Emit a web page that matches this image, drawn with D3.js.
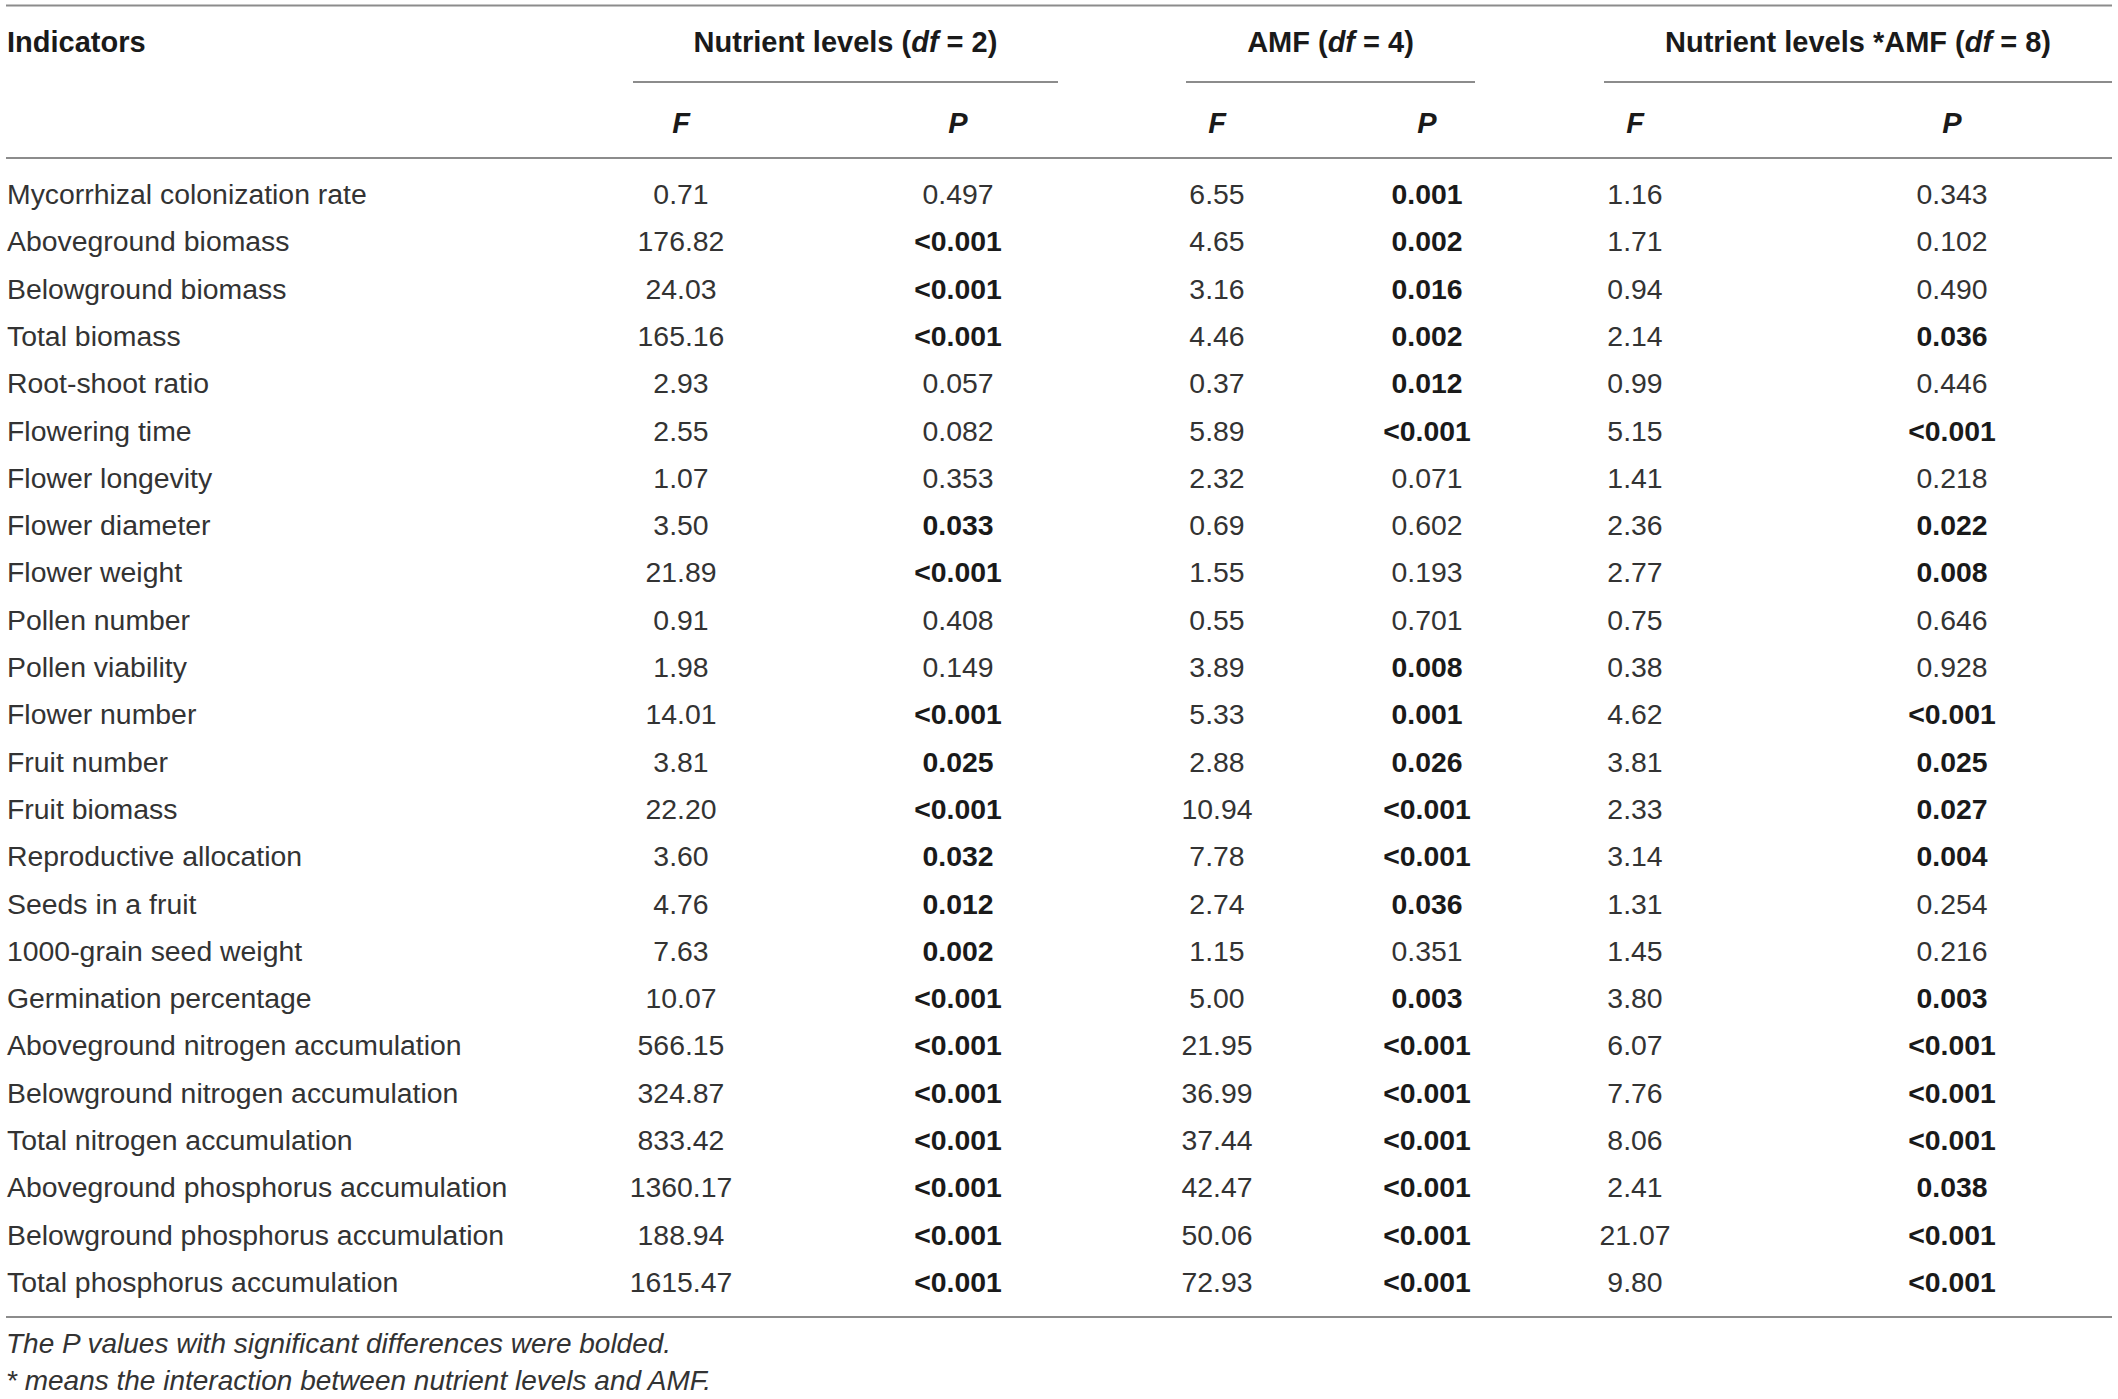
<!DOCTYPE html>
<html>
<head>
<meta charset="utf-8">
<style>
    body { margin: 0; background: #fff; }
    svg { display: block; font-family: "Liberation Sans", Arial, Helvetica, sans-serif; }
    .cell { font-size: 28.4px; fill: #333; }
    .head { font-size: 29px; font-weight: bold; fill: #1a1a1a; }
    .rule { stroke: #8c8c8c; stroke-width: 2; }
    .note { font-size: 28px; font-style: italic; fill: #333; }
</style>
</head>
<body>
<svg id="chart" width="2118" height="1399"></svg>
<script src="https://d3js.org/d3.v7.min.js"></script>
<script>
    // table contents
    const indicators = [
        "Mycorrhizal colonization rate", "Aboveground biomass", "Belowground biomass", "Total biomass",
        "Root-shoot ratio", "Flowering time", "Flower longevity", "Flower diameter", "Flower weight",
        "Pollen number", "Pollen viability", "Flower number", "Fruit number", "Fruit biomass",
        "Reproductive allocation", "Seeds in a fruit", "1000-grain seed weight", "Germination percentage",
        "Aboveground nitrogen accumulation", "Belowground nitrogen accumulation", "Total nitrogen accumulation",
        "Aboveground phosphorus accumulation", "Belowground phosphorus accumulation", "Total phosphorus accumulation"
    ];
    const nutrientF = ["0.71", "176.82", "24.03", "165.16", "2.93", "2.55", "1.07", "3.50", "21.89", "0.91", "1.98", "14.01",
        "3.81", "22.20", "3.60", "4.76", "7.63", "10.07", "566.15", "324.87", "833.42", "1360.17", "188.94", "1615.47"];
    const nutrientP = ["0.497", "<0.001", "<0.001", "<0.001", "0.057", "0.082", "0.353", "0.033", "<0.001", "0.408", "0.149", "<0.001",
        "0.025", "<0.001", "0.032", "0.012", "0.002", "<0.001", "<0.001", "<0.001", "<0.001", "<0.001", "<0.001", "<0.001"];
    const amfF = ["6.55", "4.65", "3.16", "4.46", "0.37", "5.89", "2.32", "0.69", "1.55", "0.55", "3.89", "5.33",
        "2.88", "10.94", "7.78", "2.74", "1.15", "5.00", "21.95", "36.99", "37.44", "42.47", "50.06", "72.93"];
    const amfP = ["0.001", "0.002", "0.016", "0.002", "0.012", "<0.001", "0.071", "0.602", "0.193", "0.701", "0.008", "0.001",
        "0.026", "<0.001", "<0.001", "0.036", "0.351", "0.003", "<0.001", "<0.001", "<0.001", "<0.001", "<0.001", "<0.001"];
    const interF = ["1.16", "1.71", "0.94", "2.14", "0.99", "5.15", "1.41", "2.36", "2.77", "0.75", "0.38", "4.62",
        "3.81", "2.33", "3.14", "1.31", "1.45", "3.80", "6.07", "7.76", "8.06", "2.41", "21.07", "9.80"];
    const interP = ["0.343", "0.102", "0.490", "0.036", "0.446", "<0.001", "0.218", "0.022", "0.008", "0.646", "0.928", "<0.001",
        "0.025", "0.027", "0.004", "0.254", "0.216", "0.003", "<0.001", "<0.001", "<0.001", "0.038", "<0.001", "<0.001"];

    const groups = [
        { name: "Nutrient levels", df: "2" },
        { name: "AMF", df: "4" },
        { name: "Nutrient levels *AMF", df: "8" }
    ];
    const columns = [
        { key: "nF", label: "F", values: nutrientF },
        { key: "nP", label: "P", values: nutrientP },
        { key: "aF", label: "F", values: amfF },
        { key: "aP", label: "P", values: amfP },
        { key: "iF", label: "F", values: interF },
        { key: "iP", label: "P", values: interP }
    ];
    const notes = [
        "The P values with significant differences were bolded.",
        "* means the interaction between nutrient levels and AMF."
    ];

    const svg = d3.select("#chart");

    // column centres and group spans
    const xCol = d3.scaleOrdinal()
        .domain(columns.map((c) => c.key))
        .range([681, 958, 1217, 1427, 1635, 1952]);
    const groupSpan = d3.scaleOrdinal()
        .domain(groups.map((g) => g.name))
        .range([[633, 1058], [1186, 1475], [1604, 2112]]);

    // row baselines
    const yRow = d3.scalePoint()
        .domain(d3.range(indicators.length))
        .range([204, 1292]);

    const isSig = (p) => p.startsWith("<") || +p < 0.05;

    // rules
    const rules = [5.5, 158, 1317];
    svg.selectAll("line.full").data(rules)
        .enter()
        .append("line")
        .attr("class", "rule full")
        .attr("x1", 6).attr("x2", 2112)
        .attr("y1", (d) => d).attr("y2", (d) => d);

    svg.selectAll("line.group").data(groups)
        .enter()
        .append("line")
        .attr("class", "rule group")
        .attr("x1", (g) => groupSpan(g.name)[0])
        .attr("x2", (g) => groupSpan(g.name)[1])
        .attr("y1", 82).attr("y2", 82);

    // header row 1
    svg.append("text")
        .attr("class", "head")
        .attr("x", 7).attr("y", 52)
        .text("Indicators");

    let titles = svg.selectAll("text.title").data(groups)
        .enter()
        .append("text")
        .attr("class", "head title")
        .attr("text-anchor", "middle")
        .attr("x", (g) => d3.mean(groupSpan(g.name)))
        .attr("y", 52);
    titles.append("tspan").text((g) => g.name + " (");
    titles.append("tspan").attr("font-style", "italic").text("df");
    titles.append("tspan").text((g) => " = " + g.df + ")");

    // header row 2
    svg.selectAll("text.sub").data(columns)
        .enter()
        .append("text")
        .attr("class", "head sub")
        .attr("font-style", "italic")
        .attr("text-anchor", "middle")
        .attr("x", (c) => xCol(c.key))
        .attr("y", 133)
        .text((c) => c.label);

    // body
    svg.selectAll("text.label").data(indicators)
        .enter()
        .append("text")
        .attr("class", "cell label")
        .attr("x", 7)
        .attr("y", (d, i) => yRow(i))
        .text((d) => d);

    columns.forEach((c) => {
        svg.selectAll("text.v-" + c.key).data(c.values)
            .enter()
            .append("text")
            .attr("class", "cell v-" + c.key)
            .attr("text-anchor", "middle")
            .attr("x", xCol(c.key))
            .attr("y", (d, i) => yRow(i))
            .attr("font-weight", (d) => c.label === "P" && isSig(d) ? "bold" : null)
            .style("fill", (d) => c.label === "P" && isSig(d) ? "#1a1a1a" : null)
            .text((d) => d);
    });

    // footnotes
    svg.selectAll("text.note").data(notes)
        .enter()
        .append("text")
        .attr("class", "note")
        .attr("x", 6)
        .attr("y", (d, i) => 1353 + i * 37)
        .text((d) => d);
</script>
</body>
</html>
